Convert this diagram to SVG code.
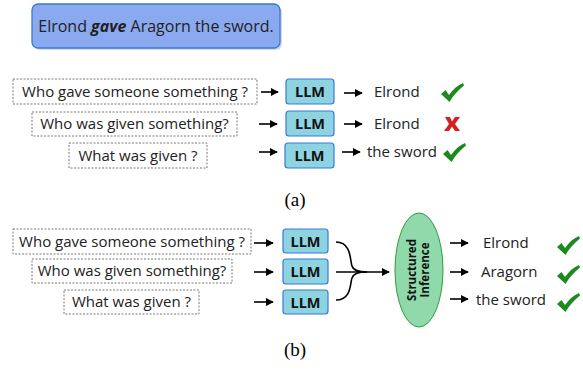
<svg xmlns="http://www.w3.org/2000/svg" width="583" height="372" viewBox="0 0 583 372">
<defs>
<style>
.t{font-family:"Open Sans","DejaVu Sans",sans-serif;font-size:15px;fill:#222}
.q{fill:#fff;stroke:#555;stroke-width:0.8;stroke-dasharray:2,1.5}
.llm{fill:#8dd3e0;stroke:#3a7bd5;stroke-width:1.2}
.lt{font-family:"Open Sans","DejaVu Sans",sans-serif;font-size:14.5px;font-weight:700;fill:#111;text-anchor:middle}
.c{stroke:#000;stroke-width:1.6;fill:none}
.cap{font-family:"Liberation Serif",serif;font-size:19px;fill:#000;text-anchor:middle}
.ok{fill:#1d8a1d}
</style>
<marker id="ah" viewBox="0 0 10 10" refX="9" refY="5" markerWidth="5" markerHeight="5" orient="auto"><path d="M0,0 L10,5 L0,10 z" fill="#000"/></marker>
<path id="chk" d="M0,9 L4.5,5 L8,10 C12,4 17,0 22,-2 L23,0.5 C17,5 12,11 8.5,17 Z"/>
</defs>
<g id="sentence">
<rect x="34" y="6" width="248" height="44" rx="6" fill="#7f8fb0" opacity="0.35"/>
<rect x="32" y="4" width="248" height="44" rx="6" fill="#8aa9ef" stroke="#3b78d8" stroke-width="1.3"/>
<text x="156" y="31.5" class="t" text-anchor="middle" style="font-size:16px">Elrond <tspan font-weight="700" font-style="italic">gave</tspan> Aragorn the sword.</text>
</g>
<g id="a-q1"><rect x="13" y="79" width="244" height="25" class="q"/><text x="135" y="96.5" class="t" text-anchor="middle">Who gave someone something ?</text></g>
<g id="a-q2"><rect x="32" y="112" width="205" height="24" class="q"/><text x="134.5" y="129" class="t" text-anchor="middle">Who was given something?</text></g>
<g id="a-q3"><rect x="69" y="143" width="138" height="25" class="q"/><text x="138" y="160.5" class="t" text-anchor="middle">What was given ?</text></g>
<g id="a-llm1"><rect x="286" y="79" width="48" height="25" rx="3" class="llm"/><text x="310" y="96.5" class="lt">LLM</text></g>
<g id="a-llm2"><rect x="286" y="111" width="48" height="25" rx="3" class="llm"/><text x="310" y="128.5" class="lt">LLM</text></g>
<g id="a-llm3"><rect x="285" y="143" width="49" height="25" rx="3" class="llm"/><text x="309.5" y="160.5" class="lt">LLM</text></g>
<g id="a-out1"><text x="374" y="96.5" class="t">Elrond</text><use href="#chk" class="ok" transform="translate(441,85)"/></g>
<g id="a-out2"><text x="374" y="128.5" class="t">Elrond</text><path d="M445,117 L450,117 L452,121.5 L455,117 L460,117 L455,124 L460,131 L455,131 L452,126.5 L449,131 L444,131 L449,124 Z" fill="#d42020"/></g>
<g id="a-out3"><text x="367" y="157" class="t">the sword</text><use href="#chk" class="ok" transform="translate(443,145)"/></g>
<text x="295" y="206" class="cap">(a)</text>
<g id="b-q1"><rect x="13" y="229" width="238" height="25" class="q"/><text x="132" y="246.5" class="t" text-anchor="middle">Who gave someone something ?</text></g>
<g id="b-q2"><rect x="32" y="259" width="200" height="24" class="q"/><text x="132" y="276" class="t" text-anchor="middle">Who was given something?</text></g>
<g id="b-q3"><rect x="64" y="290" width="135" height="24" class="q"/><text x="131.5" y="307" class="t" text-anchor="middle">What was given ?</text></g>
<g id="b-llm1"><rect x="283" y="229" width="45" height="24" rx="3" class="llm"/><text x="305.5" y="246.5" class="lt">LLM</text></g>
<g id="b-llm2"><rect x="283" y="259" width="45" height="25" rx="3" class="llm"/><text x="305.5" y="276.5" class="lt">LLM</text></g>
<g id="b-llm3"><rect x="283" y="290" width="45" height="24" rx="3" class="llm"/><text x="305.5" y="307.5" class="lt">LLM</text></g>
<g id="b-si"><ellipse cx="419" cy="270" rx="24" ry="57" fill="#8fd9ab" stroke="#2e9e3a" stroke-width="1"/>
<text transform="translate(419,270) rotate(-90)" text-anchor="middle" font-family="'Open Sans','DejaVu Sans',sans-serif" font-size="11.5" font-weight="700" fill="#111"><tspan x="0" y="-3">Structured</tspan><tspan x="0" y="10">Inference</tspan></text></g>
<g id="b-out1"><text x="483" y="247.5" class="t">Elrond</text><use href="#chk" class="ok" transform="translate(557,238)"/></g>
<g id="b-out2"><text x="481" y="277" class="t">Aragorn</text><use href="#chk" class="ok" transform="translate(557,267)"/></g>
<g id="b-out3"><text x="476" y="305" class="t">the sword</text><use href="#chk" class="ok" transform="translate(557,295)"/></g>
<text x="295" y="356" class="cap">(b)</text>
<g id="connectors">
<line x1="261" y1="92" x2="278" y2="92" class="c" marker-end="url(#ah)"/>
<line x1="259" y1="124" x2="277" y2="124" class="c" marker-end="url(#ah)"/>
<line x1="259" y1="152" x2="277" y2="152" class="c" marker-end="url(#ah)"/>
<line x1="344" y1="93" x2="362" y2="93" class="c" marker-end="url(#ah)"/>
<line x1="344" y1="124" x2="362" y2="124" class="c" marker-end="url(#ah)"/>
<line x1="342" y1="152" x2="360" y2="152" class="c" marker-end="url(#ah)"/>
<line x1="254" y1="243" x2="273" y2="243" class="c" marker-end="url(#ah)"/>
<line x1="254" y1="272" x2="273" y2="272" class="c" marker-end="url(#ah)"/>
<line x1="254" y1="302" x2="273" y2="302" class="c" marker-end="url(#ah)"/>
<path d="M336,242 C352,242 350,262 352,266 C354,272 362,272 367,272" class="c"/>
<path d="M336,300 C352,300 350,282 352,278 C354,272 362,272 367,272" class="c"/>
<line x1="336" y1="272" x2="389" y2="272" class="c" marker-end="url(#ah)"/>
<line x1="450" y1="243" x2="468" y2="243" class="c" marker-end="url(#ah)"/>
<line x1="450" y1="272" x2="468" y2="272" class="c" marker-end="url(#ah)"/>
<line x1="450" y1="299" x2="468" y2="299" class="c" marker-end="url(#ah)"/>
</g>
</svg>
